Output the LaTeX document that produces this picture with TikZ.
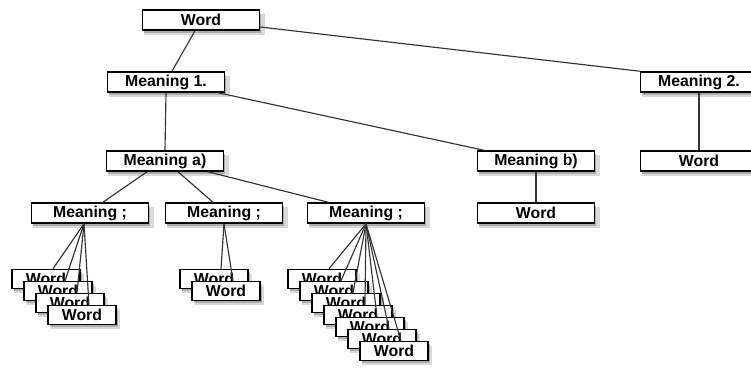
\documentclass[tikz,border=0pt]{standalone}
\usepackage{fontspec}
\setsansfont{Liberation Sans}
\usetikzlibrary{calc,shadows}

\tikzset{
  sense/.style={draw, line width=0.9pt, fill=white, inner sep=0pt,
    minimum width=2.34cm, minimum height=0.4cm,
    font=\sffamily\bfseries\fontsize{9}{10}\selectfont,
    drop shadow={shadow xshift=1.8pt, shadow yshift=-2.4pt, shadow scale=1.03, fill=black!25, opacity=0.6},
    drop shadow={shadow xshift=1pt, shadow yshift=-1.5pt, fill=black!50}},
  leaf/.style={sense, minimum width=1.36cm, minimum height=0.38cm},
  link/.style={line width=0.65pt, black!80}
}

\begin{document}
\begin{tikzpicture}[x=0.02cm,y=-0.02cm]
    \clip (0,0) rectangle (751,372);

    % upper levels
    \node[sense] (word) at (201,20) {Word};
    \node[sense] (m1) at (166,82) {Meaning 1.};
    \node[sense] (m2) at (699,82) {Meaning 2.};
    \node[sense] (ma) at (165,161) {Meaning a)};
    \node[sense] (mb) at (536,161) {Meaning b)};
    \node[sense] (w2) at (699,161) {Word};
    \node[sense] (wb) at (536,213) {Word};
    \node[sense] (s1) at (90,213) {Meaning ;};
    \node[sense] (s2) at (224,213) {Meaning ;};
    \node[sense] (s3) at (366,213) {Meaning ;};

    % stacked words
    \foreach \i in {1,...,4}
        \node[leaf] (p\i) at ({46+12*(\i-1)},{279+12*(\i-1)}) {Word};
    \foreach \i in {1,2}
        \node[leaf] (q\i) at ({214+12*(\i-1)},{279+12*(\i-1)}) {Word};
    \foreach \i in {1,...,7}
        \node[leaf] (r\i) at ({322+12*(\i-1)},{279+12*(\i-1)}) {Word};

    % connectors
    \draw[link] ($(word.south)+(-6,0)$) -- ($(m1.north)+(6,0)$);
    \draw[link] ($(word.east)+(0,7)$) -- (m2.north west);
    \draw[link] (m1.south) -- (ma.north);
    \draw[link] ($(m1.south east)+(-7,0)$) -- ($(mb.north west)+(7,0)$);
    \draw[link] (m2.south) -- (w2.north);
    \draw[link] (mb.south) -- (wb.north);
    \draw[link] ($(ma.south)+(-18,0)$) -- ($(s1.north)+(13,0)$);
    \draw[link] ($(ma.south)+(13,0)$) -- ($(s2.north)+(-11,0)$);
    \draw[link] ($(ma.south)+(43,0)$) -- ($(s3.north)+(-38,0)$);
    \foreach \i in {1,...,4}
        \draw[link] ($(s1.south)+(-6,0)$) -- ($(p\i.north)+(7,0)$);
    \foreach \i in {1,2}
        \draw[link] (s2.south) -- ($(q\i.north)+(7,0)$);
    \foreach \i in {1,...,7}
        \draw[link] (s3.south) -- ($(r\i.north)+(7,0)$);
\end{tikzpicture}
\end{document}
